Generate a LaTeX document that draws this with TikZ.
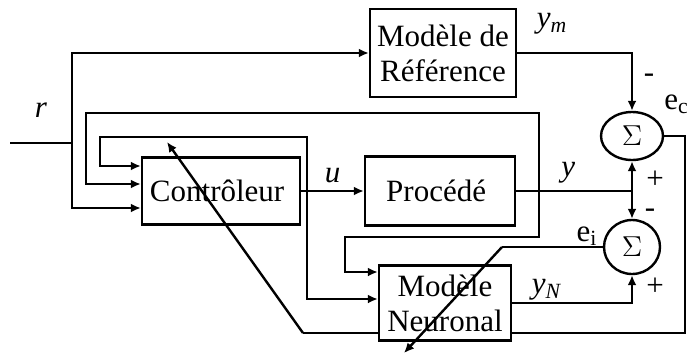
\documentclass[tikz,border=0pt]{standalone}
\usepackage{fontspec}
\setmainfont{Liberation Serif}
\usetikzlibrary{positioning, shapes.geometric, arrows.meta, backgrounds}

\begin{document}
\begin{tikzpicture}[x = 0.5pt, y = -0.5pt, font = \fontsize{15.5}{17.5}\selectfont,
    block/.style = { draw, fill = white, line width = 1.2pt, align = center, inner sep = 1pt },
    sum/.style = { draw, fill = white, ellipse, line width = 1.2pt, inner sep = 0pt },
    wire/.style = { line width = 1.2pt },
    arr/.style = { wire, -{Latex[length = 5pt, width = 4.5pt]} }]
  \useasboundingbox (0,0) rectangle (688,360);

  % blocks
  \node [block, minimum width = 73pt, minimum height = 44pt] (ref) at (443,53) { Modèle de \\ Référence };
  \node [block, minimum width = 79pt, minimum height = 33.5pt] (ctrl) at (221,191) { Contrôleur };
  \node [block, minimum width = 75pt, minimum height = 34.5pt] (proc) at (440,191) { Procédé };
  \node [block, minimum width = 66pt, minimum height = 37.5pt] (nn) at (445,303) { Modèle \\ Neuronal };
  \node [sum, minimum width = 31pt, minimum height = 24pt] (sig1) at (632,136) { $\Sigma$ };
  \node [sum, minimum width = 28pt, minimum height = 27pt] (sig2) at (632,247) { $\Sigma$ };

  % branch points and free ends
  \coordinate (in) at (10,143);
  \coordinate (r) at (72,143);
  \coordinate (uj) at (ctrl.east -| 307,0);
  \coordinate (yj) at (proc.east -| 539,0);
  \coordinate (ys) at (proc.east -| sig1.south);
  \coordinate (ei) at (502,247);
  \coordinate (eiend) at (404,353);
  \coordinate (ec) at (303,333);
  \coordinate (adapt) at (167,142);

  % reference r
  \draw [wire] (in) -- (r) node [midway, above = 9pt] (rl) { \textit{r} };
  \draw [arr] (r) |- (ref.west);
  \draw [arr] (r) |- ([yshift = -8.5pt]ctrl.west);
  \draw [arr] (ref.east) -| (sig1.north);

  % command u
  \draw [arr] (ctrl.east) -- (ctrl.east -| proc.west) node [midway, above] (ul) { \textit{u} };
  \draw [arr] (uj) |- (100,137) |- ([yshift = 12.5pt]ctrl.west);
  \draw [arr] (uj) |- ([yshift = 2pt]nn.west);

  % plant output y
  \draw [wire] (proc.east) -- (ys) node [pos = 0.45, above] (yl) { \textit{y} };
  \draw [arr] (ys) -- (sig1.south);
  \draw [arr] (ys) -- (sig2.north);
  \draw [arr] (yj) |- (86,113) |- ([yshift = 3.5pt]ctrl.west);
  \draw [arr] (yj) |- (345,237) |- ([yshift = 15.5pt]nn.west);

  % model output
  \draw [arr] (nn.east) -| (sig2.south);

  % errors
  \draw [wire] (sig2.west) -- (ei);
  \draw [arr] (ei) -- (eiend);
  \begin{scope}[on background layer]
    \draw [wire] (sig1.east) -| (685,333) -- (ec);
  \end{scope}
  \draw [arr] (ec) -- (adapt);

  % labels
  \node (yml) at (552,24) { \textit{y}\textsubscript{\textit{m}} };
  \node (ynl) at (547,290) { \textit{y}\textsubscript{\textit{N}} };
  \node (eil) at (587,236) { e\textsubscript{i} };
  \node [anchor = west, inner sep = 1pt] (ecl) at (662,104) { e\textsubscript{c} };
  \node (m1) at (649,78) { - };
  \node (p1) at (655,180) { + };
  \node (m2) at (650,213) { - };
  \node (p2) at (655,287) { + };
\end{tikzpicture}
\end{document}
